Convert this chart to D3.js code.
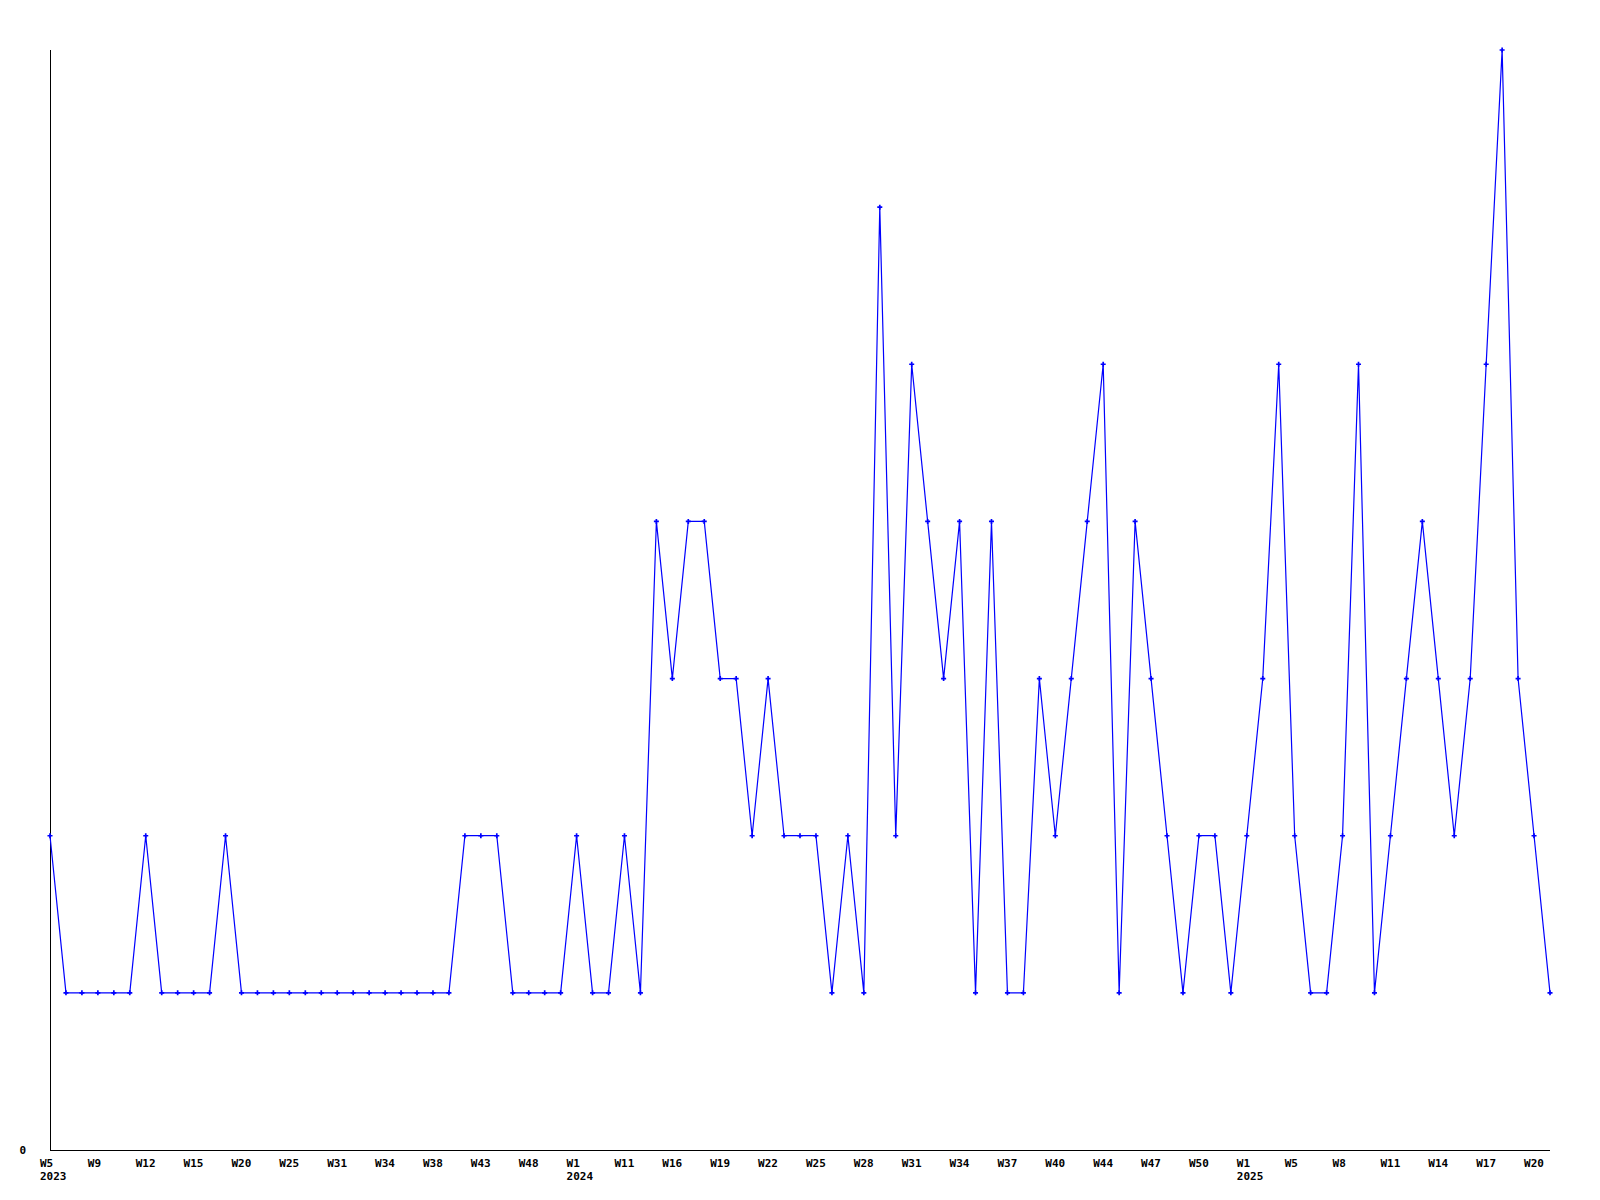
<!DOCTYPE html>
<html>
<head>
<meta charset="utf-8">
<script src="https://cdn.jsdelivr.net/npm/d3@7"></script>
<style>
  html, body { margin: 0; padding: 0; background: #fff; }
  svg { display: block; }
  text { font-family: "DejaVu Sans Mono", "Liberation Mono", monospace; font-weight: bold; font-size: 11px; fill: #000; }
</style>
</head>
<body>
<svg id="chart" width="1600" height="1200"></svg>
<script>
// Weekly counts, one per point (left to right)
const values = [
  2,1,1,1,1,1,2,1,1,1,1,2,1,
  1,1,1,1,1,1,1,1,1,1,1,1,1,
  2,2,2,1,1,1,1,2,1,1,2,1,
  4,3,4,4,3,3,2,3,2,2,2,1,2,1,
  6,2,5,4,3,4,1,4,1,1,3,2,3,4,5,1,4,3,2,1,2,2,1,
  2,3,5,2,1,1,2,5,1,2,3,4,3,2,3,5,7,3,2,1
];
// Tick labels shown every third point
const tickLabels = ["W5","W9","W12","W15","W20","W25","W31","W34","W38","W43","W48",
  "W1","W11","W16","W19","W22","W25","W28","W31","W34","W37","W40","W44","W47","W50",
  "W1","W5","W8","W11","W14","W17","W20"];
const tickStep = 3;
// Year labels: tick position -> year
const yearTicks = [0, 11, 25];
const yearLabels = ["2023", "2024", "2025"];
const yTickValues = [0];

const svg = d3.select("#chart");
const mLeft = 50, mRight = 1550, mTop = 50, mBottom = 1150;

const idx = values.map((v, i) => i);
const x = d3.scalePoint().domain(idx).range([mLeft, mRight]);
const y = d3.scaleLinear().domain([0, d3.max(values)]).range([mBottom, mTop]);

// axes lines
svg.append("line").attr("x1", mLeft + 0.5).attr("x2", mLeft + 0.5).attr("y1", mTop).attr("y2", mBottom + 0.5)
  .attr("stroke", "#000").attr("stroke-width", 1).attr("shape-rendering", "crispEdges");
svg.append("line").attr("x1", mLeft).attr("x2", mRight).attr("y1", mBottom + 0.5).attr("y2", mBottom + 0.5)
  .attr("stroke", "#000").attr("stroke-width", 1).attr("shape-rendering", "crispEdges");

// y tick labels
svg.selectAll("text.ytick").data(yTickValues).enter().append("text")
  .attr("class", "ytick")
  .attr("x", 26).attr("y", d => y(d) + 4)
  .attr("text-anchor", "end")
  .text(d => d);

// x tick labels
svg.selectAll("text.xtick").data(tickLabels).enter().append("text")
  .attr("class", "xtick")
  .attr("x", (d, i) => x(i * tickStep) - 10)
  .attr("y", mBottom + 17)
  .text(d => d);

svg.selectAll("text.year").data(yearLabels).enter().append("text")
  .attr("class", "year")
  .attr("x", (d, i) => x(yearTicks[i] * tickStep) - 10)
  .attr("y", mBottom + 30)
  .text(d => d);

// line
const line = d3.line().x((d, i) => x(i)).y(d => y(d));
svg.append("path").datum(values)
  .attr("d", line)
  .attr("fill", "none")
  .attr("stroke", "#0000ff")
  .attr("stroke-width", 1.2);

// markers
const sym = d3.symbol().type(d3.symbolCross).size(14);
svg.selectAll("path.pt").data(values).enter().append("path")
  .attr("class", "pt")
  .attr("transform", (d, i) => `translate(${x(i)},${y(d)})`)
  .attr("d", sym)
  .attr("fill", "#0000ff");
</script>
</body>
</html>
